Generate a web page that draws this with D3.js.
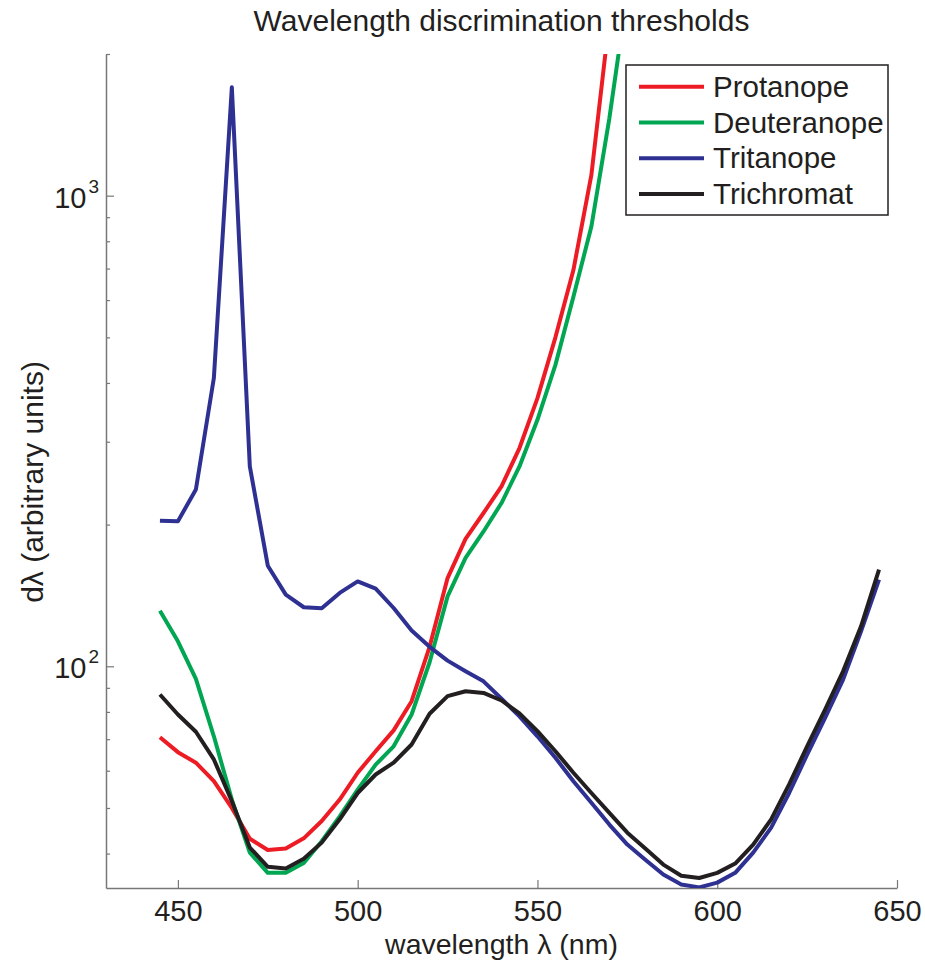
<!DOCTYPE html>
<html>
<head>
<meta charset="utf-8">
<script src="https://cdn.jsdelivr.net/npm/d3@7"></script>
<style>
  body { margin: 0; background: #fff; }
  #graphic text { font-family: "Liberation Sans", Arial, Helvetica, sans-serif; fill: #231f20; }
</style>
</head>
<body>
<div id="graphic"></div>
<script>
// wavelength samples (nm), every 5 nm
var wavelengths = [445, 450, 455, 460, 465, 470, 475, 480, 485, 490, 495, 500, 505, 510, 515, 520,
  525, 530, 535, 540, 545, 550, 555, 560, 565, 570, 575, 580, 585, 590, 595, 600, 605, 610, 615,
  620, 625, 630, 635, 640, 645];

// thresholds (protanope / deuteranope run off the top after 570)
var protanope = [70.7, 65.7, 62.4, 57.0, 50.0, 43.0, 40.7, 41.0, 43.1, 46.9, 52.1, 59.4, 66.0, 73.1,
  84.3, 110, 154, 186.5, 211.7, 241.2, 290.9, 371.5, 500, 695, 1107, 2370, 4000];
var deuteranope = [131.3, 113.0, 94.0, 71.0, 52.1, 40.2, 36.4, 36.4, 38.2, 42.5, 48.0, 54.7, 61.8, 67.6,
  79.0, 102, 140.8, 169.9, 193.4, 222.3, 265.9, 334, 437, 610, 860, 1460, 2700];
var tritanope = [203.8, 203.3, 237.5, 409.7, 1699, 265.9, 163.6, 142.0, 133.5, 132.8, 143.2, 151.5,
  146.2, 133.0, 119.2, 110, 102.8, 97.6, 92.9, 85.3, 78.3, 71.0, 63.9, 57.0, 51.3, 46.1, 41.8, 38.8,
  36.1, 34.4, 33.9, 34.7, 36.4, 40.2, 45.4, 53.8, 64.9, 77.7, 93.7, 118.7, 152.8];
var trichromat = [87.1, 79.0, 72.6, 63.4, 51.7, 41.2, 37.5, 37.2, 39.0, 42.2, 47.3, 53.8, 58.9, 62.4,
  68.2, 79.3, 86.4, 88.5, 87.8, 84.6, 79.4, 72.8, 66.0, 59.4, 53.8, 48.8, 44.3, 41.0, 37.9, 35.9,
  35.5, 36.4, 38.1, 41.8, 47.3, 56.1, 67.6, 80.9, 97.6, 121.6, 160.4];

var seriesNames = ["Protanope", "Deuteranope", "Tritanope", "Trichromat"];
var seriesColours = ["#ed1c24", "#00a651", "#2e3192", "#231f20"];
var seriesValues = [protanope, deuteranope, tritanope, trichromat];

var xTicks = [450, 500, 550, 600, 650];
var yMajorTicks = [100, 1000];
var yMinorTicks = [40, 50, 60, 70, 80, 90, 200, 300, 400, 500, 600, 700, 800, 900, 2000];

var chartTitle = "Wavelength discrimination thresholds";
var xAxisLabel = "wavelength \u03bb (nm)";
var yAxisLabel = "d\u03bb (arbitrary units)";

var width = 925, height = 960;
var margin = { top: 54, right: 28, bottom: 72, left: 106 };
var chart_width = width - margin.left - margin.right;
var chart_height = height - margin.top - margin.bottom;
var axisColour = "#777777";

var svg = d3.select("#graphic").append("svg")
  .attr("width", width)
  .attr("height", height);

var chart = svg.append("g")
  .attr("transform", "translate(" + margin.left + "," + margin.top + ")");

// scales
var x = d3.scaleLinear()
  .domain([430, 650])
  .range([0, chart_width]);

var y = d3.scaleLog()
  .domain([33.8, 2000])
  .range([chart_height, 0]);

// clip the lines to the plot box
svg.append("defs").append("clipPath")
  .attr("id", "plotclip")
  .append("rect")
  .attr("x", 0)
  .attr("y", 0)
  .attr("width", chart_width)
  .attr("height", chart_height);

// x axis, ticks pointing inward
var xAxis = d3.axisBottom(x)
  .tickValues(xTicks)
  .tickSize(-8)
  .tickSizeOuter(0)
  .tickPadding(12.5)
  .tickFormat(d3.format("d"));

chart.append("g")
  .attr("class", "x axis")
  .attr("transform", "translate(0," + chart_height + ")")
  .call(xAxis)
  .call(g => g.select(".domain").attr("stroke", axisColour).attr("stroke-width", 1.5))
  .call(g => g.selectAll(".tick line").attr("stroke", axisColour).attr("stroke-width", 1.2))
  .call(g => g.selectAll(".tick text").attr("font-size", 29).attr("fill", "#231f20"));

// y axis minor ticks
chart.append("g")
  .attr("class", "y axis minor")
  .call(d3.axisLeft(y).tickValues(yMinorTicks).tickSize(-4).tickSizeOuter(0).tickFormat(""))
  .call(g => g.select(".domain").remove())
  .call(g => g.selectAll(".tick line").attr("stroke", axisColour).attr("stroke-width", 1.2));

// y axis major ticks with 10^n labels
chart.append("g")
  .attr("class", "y axis")
  .call(d3.axisLeft(y).tickValues(yMajorTicks).tickSize(-8).tickSizeOuter(0).tickPadding(7).tickFormat(""))
  .call(g => g.select(".domain").attr("stroke", axisColour).attr("stroke-width", 1.5))
  .call(g => g.selectAll(".tick line").attr("stroke", axisColour).attr("stroke-width", 1.2))
  .call(g => g.selectAll(".tick text").each(function(d) {
    var t = d3.select(this).text(null).attr("font-size", 29).attr("dy", "0.4em");
    t.append("tspan").text("10");
    t.append("tspan")
      .attr("font-size", 19)
      .attr("dx", 2)
      .attr("dy", -15)
      .text(Math.round(Math.log10(d)));
  }));

// the lines
var line = d3.line()
  .x((d, i) => x(wavelengths[i]))
  .y(d => y(d));

chart.append("g")
  .attr("clip-path", "url(#plotclip)")
  .selectAll("path.series")
  .data(seriesValues)
  .join("path")
  .attr("class", "series")
  .attr("d", d => line(d))
  .attr("fill", "none")
  .attr("stroke", (d, i) => seriesColours[i])
  .attr("stroke-width", 4)
  .attr("stroke-linejoin", "round");

// legend
var legend = svg.append("g")
  .attr("class", "legend")
  .attr("transform", "translate(626,65)");

legend.append("rect")
  .attr("width", 262)
  .attr("height", 150)
  .attr("fill", "#fff")
  .attr("stroke", "#231f20")
  .attr("stroke-width", 1.5);

var legenditem = legend.selectAll("g.legend--item")
  .data(d3.zip(seriesNames, seriesColours))
  .join("g")
  .attr("class", "legend--item")
  .attr("transform", (d, i) => "translate(0," + (21.7 + i * 35.8) + ")");

legenditem.append("line")
  .attr("x1", 13)
  .attr("x2", 78)
  .attr("stroke", d => d[1])
  .attr("stroke-width", 4);

legenditem.append("text")
  .attr("x", 87)
  .attr("y", 10)
  .attr("font-size", 29.5)
  .text(d => d[0]);

// title and axis labels
svg.append("text")
  .attr("x", margin.left + chart_width / 2)
  .attr("y", 31)
  .attr("text-anchor", "middle")
  .attr("font-size", 30)
  .text(chartTitle);

svg.append("text")
  .attr("x", margin.left + chart_width / 2)
  .attr("y", 954)
  .attr("text-anchor", "middle")
  .attr("font-size", 28.5)
  .text(xAxisLabel);

svg.append("text")
  .attr("transform", "translate(43,482) rotate(-90)")
  .attr("text-anchor", "middle")
  .attr("font-size", 30)
  .text(yAxisLabel);
</script>
</body>
</html>
